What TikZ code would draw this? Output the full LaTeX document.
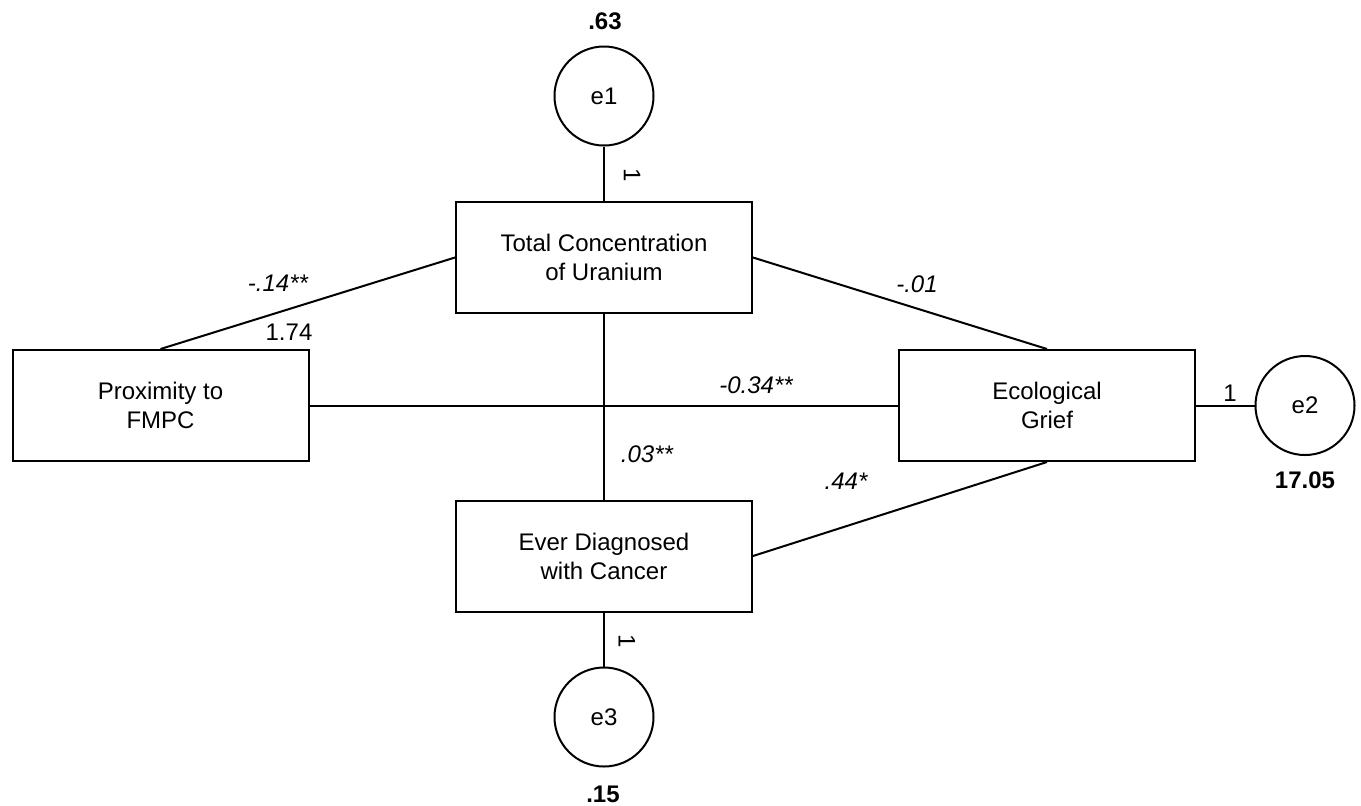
\documentclass[tikz,border=0pt]{standalone}
\usepackage{fontspec}
\setmainfont{Liberation Sans}
\begin{document}
\begin{tikzpicture}[x=0.5pt,y=-0.5pt,
  box/.style={draw,line width=1pt,minimum width=148pt,minimum height=55.5pt,inner sep=0pt,align=center,font=\fontsize{12}{14.5}\selectfont},
  err/.style={draw,circle,line width=1pt,minimum size=49.5pt,inner sep=0pt,font=\fontsize{12}{14.5}\selectfont},
  conn/.style={line width=1pt},
  coef/.style={font=\fontsize{12}{14.5}\selectfont\itshape,inner sep=0pt},
  plain/.style={font=\fontsize{12}{14.5}\selectfont,inner sep=0pt},
  var/.style={font=\fontsize{12}{14.5}\selectfont\bfseries,inner sep=0pt}]
\useasboundingbox (0,0) rectangle (1361,805);
% boxes
\node[box] (total) at (604,257.5) {Total Concentration\\of Uranium};
\node[box] (prox) at (160.5,405.5) {Proximity to\\FMPC};
\node[box] (eco) at (1047,405.5) {Ecological\\Grief};
\node[box] (ever) at (604,556) {Ever Diagnosed\\with Cancer};
% error circles
\node[err] (e1) at (604,96) {e1};
\node[err] (e2) at (1305,405.5) {e2};
\node[err] (e3) at (604,717) {e3};
% connectors
\draw[conn] (e1.south) -- (total.north);
\draw[conn] (e3.north) -- (ever.south);
\draw[conn] (e2.west) -- (eco.east);
\draw[conn] (total.south) -- (ever.north);
\draw[conn] (prox.east) -- (eco.west);
\draw[conn] (prox.north) -- (total.west);
\draw[conn] (total.east) -- (eco.north);
\draw[conn] (eco.south) -- (ever.east);
% labels
\node[coef] (l1) at (278,283) {-.14**};
\node[plain] (l2) at (289,332) {1.74};
\node[coef] (l3) at (917,284) {-.01};
\node[coef] (l4) at (756,385) {-0.34**};
\node[coef] (l5) at (647,454) {.03**};
\node[coef] (l6) at (846,481) {.44*};
\node[plain,rotate=-90] (l7) at (632,175) {1};
\node[plain,rotate=-90] (l8) at (627,641) {1};
\node[plain] (l9) at (1230,393) {1};
\node[var] (v1) at (605,21) {.63};
\node[var] (v2) at (1305,480) {17.05};
\node[var] (v3) at (603,794) {.15};
\end{tikzpicture}
\end{document}
